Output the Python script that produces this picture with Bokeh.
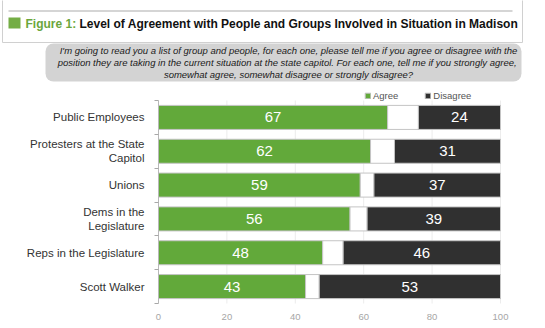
from bokeh.plotting import figure
from bokeh.models import (ColumnDataSource, Range1d, FixedTicker, BoxAnnotation,
                          Legend, LegendItem, LinearAxis)
from bokeh.core.properties import value
from bokeh.embed import file_html
from bokeh.resources import INLINE

# ---------------- data ----------------
categories = ["Public Employees", "Protesters at the State\nCapitol", "Unions",
              "Dems in the\nLegislature", "Reps in the Legislature", "Scott Walker"]
agree = [67, 62, 59, 56, 48, 43]
disagree = [24, 31, 37, 39, 46, 53]
x_ticks = [0, 20, 40, 60, 80, 100]
series_names = ["Agree", "Disagree"]
title_prefix = "Figure 1:"
title_text = "Level of Agreement with People and Groups Involved in Situation in Madison"
question_lines = [
    "I'm going to read you a list of group and people, for each one, please tell me if you agree or disagree with the",
    "position they are taking in the current situation at the state capitol.  For each one, tell me if you strongly agree,",
    "somewhat agree, somewhat disagree or strongly disagree?",
]

# ---------------- layout / style ----------------
W, H = 545, 328
X0_PX, X100_PX = 158, 500          # where 0 and 100 fall
TOP_PX, BOT_PX = 100, 303          # top / bottom of the category bands
GREEN = "#62a93a"
DARK = "#303030"
EDGE = "#c4c4c4"
FONT = "Liberation Sans"

n = len(categories)
xs = (X100_PX - X0_PX) / 100.0
band = (BOT_PX - TOP_PX) / n
x_range = Range1d(-X0_PX / xs, (W - X0_PX) / xs)
y_range = Range1d(-0.5 + (H - TOP_PX) / band, -0.5 - TOP_PX / band)

p = figure(width=W, height=H, output_backend="svg", toolbar_location=None,
           x_range=x_range, y_range=y_range, x_axis_type=None, y_axis_type=None,
           min_border=0, min_border_left=0, min_border_right=0,
           min_border_top=0, min_border_bottom=0)
p.title.visible = False
p.outline_line_color = None
p.grid.grid_line_color = None
p.extra_x_ranges = {"px": Range1d(0, W)}
p.extra_y_ranges = {"py": Range1d(H, 0)}

# ---------------- header (pixel space) ----------------
px = dict(x_range_name="px", y_range_name="py")
p.quad(left=[2], right=[522], top=[-2], bottom=[42], fill_alpha=0,
       line_color="#d0d0d0", line_width=1, **px)
p.segment(x0=[8], y0=[10.5], x1=[512], y1=[10.5], line_color="#ababab", line_width=1, **px)
p.quad(left=[8], right=[20], top=[17], bottom=[28], fill_color="#74ad45", line_color=None, **px)
p.add_layout(BoxAnnotation(left=45, right=521, top=43, bottom=81,
                           fill_color="#d3d3d3", fill_alpha=1, line_color=None,
                           border_radius=8, level="underlay", **px))
p.text(x=[25], y=[23], text=[title_prefix], text_font=value(FONT), text_font_style="bold",
       text_font_size="12px", text_color="#6aa63c", text_baseline="middle", **px)
p.text(x=[79], y=[23], text=[title_text], text_font=value(FONT), text_font_style="bold",
       text_font_size="12px", text_color="#111111", text_baseline="middle", **px)
p.text(x=[288] * len(question_lines), y=[50, 62, 74], text=question_lines,
       text_font=value(FONT), text_font_style="italic", text_font_size="9.5px",
       text_color="#1a1a1a", text_align="center", text_baseline="middle", **px)

# ---------------- chart ----------------
idx = list(range(n))
src = ColumnDataSource(dict(
    y=idx,
    agree=agree,
    dis_left=[100 - d for d in disagree],
    agree_mid=[a / 2 for a in agree],
    dis_mid=[100 - d / 2 for d in disagree],
    agree_txt=[str(a) for a in agree],
    dis_txt=[str(d) for d in disagree],
))

# vertical gridlines limited to the band area
p.segment(x0=x_ticks[1:], x1=x_ticks[1:], y0=[-0.5] * (len(x_ticks) - 1),
          y1=[n - 0.5] * (len(x_ticks) - 1), line_color="#ececec", line_width=1)

r_ag = p.hbar(y="y", left=0, right="agree", height=0.71, fill_color=GREEN,
              line_color=EDGE, line_width=1, source=src)
p.hbar(y="y", left="agree", right="dis_left", height=0.71, fill_color="white",
       line_color=EDGE, line_width=1, source=src)
r_dis = p.hbar(y="y", left="dis_left", right=100, height=0.71, fill_color=DARK,
               line_color=EDGE, line_width=1, source=src)

p.text(x="agree_mid", y="y", text="agree_txt", text_align="center", text_baseline="middle",
       text_color="white", text_font_size="15px", text_font=value(FONT), source=src)
p.text(x="dis_mid", y="y", text="dis_txt", text_align="center", text_baseline="middle",
       text_color="white", text_font_size="15px", text_font=value(FONT), source=src)

# x axis (fixed at the bottom of the bands)
xaxis = LinearAxis(fixed_location=n - 0.5, bounds=(x_ticks[0], x_ticks[-1]),
                   ticker=FixedTicker(ticks=x_ticks))
xaxis.axis_line_color = None
xaxis.major_tick_line_color = None
xaxis.minor_tick_line_color = None
xaxis.major_label_text_color = "#a6a6a6"
xaxis.major_label_text_font = FONT
xaxis.major_label_text_font_size = "9.5px"
xaxis.major_label_standoff = 4
p.add_layout(xaxis, "below")

# y axis (fixed at x = 0)
yaxis = LinearAxis(fixed_location=0, bounds=(-0.5, n - 0.5),
                   ticker=FixedTicker(ticks=idx, minor_ticks=[i - 0.5 for i in range(n + 1)]))
yaxis.major_label_overrides = {i: c for i, c in enumerate(categories)}
yaxis.major_tick_line_color = None
yaxis.major_tick_out = 0
yaxis.major_tick_in = 0
yaxis.minor_tick_line_color = "#a8a8a8"
yaxis.minor_tick_out = 4
yaxis.minor_tick_in = 0
yaxis.axis_line_color = "#b8b8b8"
yaxis.major_label_text_font = FONT
yaxis.major_label_text_font_size = "11.5px"
yaxis.major_label_text_color = "#333333"
yaxis.major_label_standoff = 10
p.add_layout(yaxis, "left")

# legend
legend = Legend(items=[LegendItem(label=series_names[0], renderers=[r_ag]),
                       LegendItem(label=series_names[1], renderers=[r_dis])],
                orientation="horizontal", location=(364, H - 101),
                glyph_width=7, glyph_height=7, label_height=10, label_standoff=2,
                spacing=26, padding=0, margin=0,
                label_text_font=FONT, label_text_font_size="9.5px",
                label_text_color="#555555",
                background_fill_alpha=0, border_line_color=None)
p.add_layout(legend, "center")

open("out.html", "w").write(file_html(p, INLINE))
